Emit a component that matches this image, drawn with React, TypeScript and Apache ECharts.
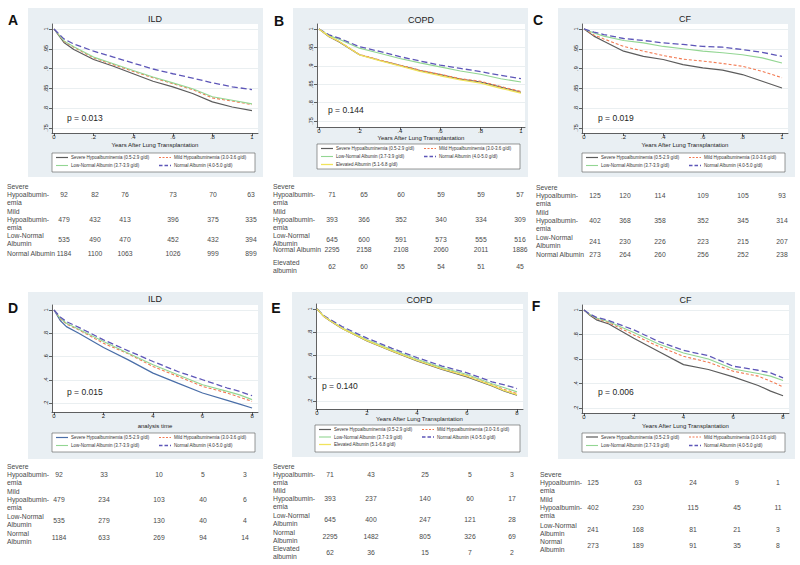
import React, { useEffect, useRef } from 'react';
import * as echarts from 'echarts';

// ---------- DATA ----------
const timesYear1 = [0, 0.05, 0.1, 0.2, 0.3, 0.4, 0.5, 0.6, 0.7, 0.8, 0.9, 1];
const timesYear8 = [0, 0.25, 0.5, 1, 2, 3, 4, 5, 6, 7, 7.5, 8];

// A: ILD 1 year
const ildY1Severe = [1, 0.966, 0.948, 0.923, 0.906, 0.887, 0.868, 0.854, 0.837, 0.816, 0.803, 0.794];
const ildY1Mild = [1, 0.969, 0.954, 0.927, 0.91, 0.893, 0.877, 0.862, 0.847, 0.826, 0.818, 0.809];
const ildY1Low = [1, 0.97, 0.955, 0.929, 0.912, 0.895, 0.879, 0.864, 0.849, 0.829, 0.82, 0.811];
const ildY1Normal = [1, 0.975, 0.962, 0.944, 0.929, 0.914, 0.899, 0.887, 0.876, 0.864, 0.854, 0.847];
// B: COPD 1 year
const copdY1Severe = [1, 0.979, 0.965, 0.93, 0.915, 0.901, 0.887, 0.876, 0.864, 0.856, 0.842, 0.828];
const copdY1Mild = [1, 0.98, 0.966, 0.931, 0.916, 0.902, 0.888, 0.877, 0.865, 0.858, 0.844, 0.83];
const copdY1Low = [1, 0.982, 0.972, 0.948, 0.934, 0.92, 0.908, 0.897, 0.886, 0.877, 0.865, 0.856];
const copdY1Normal = [1, 0.984, 0.975, 0.952, 0.939, 0.925, 0.913, 0.902, 0.893, 0.884, 0.874, 0.865];
const copdY1Elevated = [1, 0.98, 0.966, 0.93, 0.914, 0.9, 0.885, 0.873, 0.862, 0.853, 0.839, 0.826];
// C: CF 1 year
const cfY1Severe = [1, 0.982, 0.969, 0.944, 0.931, 0.923, 0.91, 0.902, 0.896, 0.885, 0.868, 0.851];
const cfY1Mild = [1, 0.985, 0.975, 0.956, 0.944, 0.933, 0.924, 0.919, 0.913, 0.906, 0.893, 0.877];
const cfY1Low = [1, 0.99, 0.982, 0.971, 0.965, 0.956, 0.95, 0.944, 0.94, 0.935, 0.927, 0.914];
const cfY1Normal = [1, 0.992, 0.986, 0.976, 0.971, 0.965, 0.961, 0.956, 0.954, 0.948, 0.941, 0.931];
// D: ILD 8 years
const ildY8Severe = [1, 0.91, 0.857, 0.8, 0.677, 0.571, 0.457, 0.371, 0.286, 0.223, 0.19, 0.157];
const ildY8Mild = [1, 0.925, 0.88, 0.829, 0.714, 0.623, 0.514, 0.429, 0.343, 0.286, 0.25, 0.214];
const ildY8Low = [1, 0.93, 0.886, 0.834, 0.729, 0.629, 0.529, 0.443, 0.357, 0.3, 0.27, 0.229];
const ildY8Normal = [1, 0.94, 0.9, 0.851, 0.743, 0.649, 0.557, 0.471, 0.4, 0.329, 0.3, 0.263];
// E: COPD 8 years
const copdY8Severe = [1, 0.94, 0.9, 0.83, 0.722, 0.632, 0.548, 0.475, 0.41, 0.33, 0.285, 0.25];
const copdY8Mild = [1, 0.94, 0.903, 0.835, 0.728, 0.638, 0.555, 0.482, 0.42, 0.34, 0.3, 0.264];
const copdY8Low = [1, 0.942, 0.905, 0.838, 0.733, 0.645, 0.562, 0.49, 0.43, 0.35, 0.315, 0.279];
const copdY8Normal = [1, 0.945, 0.912, 0.848, 0.746, 0.658, 0.577, 0.504, 0.445, 0.366, 0.34, 0.308];
const copdY8Elevated = [1, 0.94, 0.902, 0.832, 0.725, 0.635, 0.552, 0.478, 0.415, 0.335, 0.29, 0.255];
// F: CF 8 years
const cfY8Severe = [1, 0.955, 0.92, 0.886, 0.77, 0.662, 0.554, 0.514, 0.454, 0.384, 0.338, 0.3];
const cfY8Mild = [1, 0.96, 0.93, 0.897, 0.797, 0.703, 0.622, 0.573, 0.5, 0.46, 0.419, 0.373];
const cfY8Low = [1, 0.962, 0.935, 0.905, 0.816, 0.722, 0.649, 0.6, 0.519, 0.481, 0.46, 0.425];
const cfY8Normal = [1, 0.965, 0.94, 0.914, 0.838, 0.743, 0.67, 0.627, 0.541, 0.508, 0.487, 0.446];

const yTicksTop = [0.75, 0.8, 0.85, 0.9, 0.95, 1];
const yTicksBottom = [0.2, 0.4, 0.6, 0.8, 1];
const xTicksTop = [0, 0.2, 0.4, 0.6, 0.8, 1];
const xTicksBottom = [0, 2, 4, 6, 8];

const groupNames = [
  'Severe Hypoalbuminemia (0.5-2.9 g/dl)',
  'Mild Hypoalbuminemia (3.0-3.6 g/dl)',
  'Low-Normal Albumin (3.7-3.9 g/dl)',
  'Normal Albumin (4.0-5.0 g/dl)',
  'Elevated Albumin (5.1-6.8 g/dl)',
];
const pValues = ['p = 0.013', 'p = 0.144', 'p = 0.019', 'p = 0.015', 'p = 0.140', 'p = 0.006'];
const panelTitles = ['ILD', 'COPD', 'CF', 'ILD', 'COPD', 'CF'];
const panelLetters = ['A', 'B', 'C', 'D', 'E', 'F'];
const xAxisTitles = [
  'Years After Lung Transplantation', 'Years After Lung Transplantation', 'Years After Lung Transplantation',
  'analysis time', 'Years After Lung Transplantation', 'Years After Lung Transplantation',
];

const riskLabelsTop = [['Severe', 'Hypoalbumin-', 'emia'], ['Mild', 'Hypoalbumin-', 'emia'], ['Low-Normal', 'Albumin'], ['Normal Albumin'], ['Elevated', 'albumin']];
const riskLabelsBottom = [['Severe', 'Hypoalbumin-', 'emia'], ['Mild', 'Hypoalbumin-', 'emia'], ['Low-Normal', 'Albumin'], ['Normal', 'Albumin'], ['Elevated', 'albumin']];

const riskA = [[92, 82, 76, 73, 70, 63], [479, 432, 413, 396, 375, 335], [535, 490, 470, 452, 432, 394], [1184, 1100, 1063, 1026, 999, 899]];
const riskB = [[71, 65, 60, 59, 59, 57], [393, 366, 352, 340, 334, 309], [645, 600, 591, 573, 555, 516], [2295, 2158, 2108, 2060, 2011, 1886], [62, 60, 55, 54, 51, 45]];
const riskC = [[125, 120, 114, 109, 105, 93], [402, 368, 358, 352, 345, 314], [241, 230, 226, 223, 215, 207], [273, 264, 260, 256, 252, 238]];
const riskD = [[92, 33, 10, 5, 3], [479, 234, 103, 40, 6], [535, 279, 130, 40, 4], [1184, 633, 269, 94, 14]];
const riskE = [[71, 43, 25, 5, 3], [393, 237, 140, 60, 17], [645, 400, 247, 121, 28], [2295, 1482, 805, 326, 69], [62, 36, 15, 7, 2]];
const riskF = [[125, 63, 24, 9, 1], [402, 230, 115, 45, 11], [241, 168, 81, 21, 3], [273, 189, 91, 35, 8]];

// ---------- LAYOUT / STYLE ----------
const FONT = 'Liberation Sans, Arial, sans-serif';
const TABLE_FONT = 'Liberation Sans, Arial, sans-serif';
const styleOf = (gi: number, panel: number) => {
  if (gi === 0) return { color: panel === 3 ? '#4a6ea8' : '#5c5c5c', type: 'solid' as any, width: 1.2 };
  if (gi === 1) return { color: '#f27a52', type: [3, 2] as any, width: 1.1 };
  if (gi === 2) return { color: '#93d693', type: 'solid' as any, width: 1.1 };
  if (gi === 3) return { color: '#5d56b8', type: [6, 3] as any, width: 1.3 };
  return { color: '#f1e35c', type: 'solid' as any, width: 1.3 };
};

type Panel = {
  bg: number[]; grid: number[]; xr: number[]; yr: number[]; xt: number[]; yt: number[];
  times: number[]; curves: number[][]; letter: number[]; titleY: number; xTitleY: number;
  p: number[]; legBox: number[]; legRows: number[]; risk: number[][]; riskRows: number[];
  riskCols: number[]; riskLabelX: number; riskLabels: string[][];
};

const panels: Panel[] = [
  {
    bg: [28, 8, 235, 169], grid: [52, 24, 206, 109], xr: [-0.0101, 1.0303], yr: [0.7374, 1.0126],
    xt: xTicksTop, yt: yTicksTop, times: timesYear1, curves: [ildY1Severe, ildY1Mild, ildY1Low, ildY1Normal],
    letter: [13, 20], titleY: 19, xTitleY: 145, p: [67, 118], legBox: [52, 153, 203, 19], legRows: [157.5, 165.5],
    risk: riskA, riskRows: [194, 219, 239.5, 253], riskCols: [64, 95, 125, 173, 213, 251], riskLabelX: 7, riskLabels: riskLabelsTop,
  },
  {
    bg: [293, 8, 235, 169], grid: [317, 24, 208, 103], xr: [-0.0099, 1.02], yr: [0.7337, 1.0136],
    xt: xTicksTop, yt: yTicksTop, times: timesYear1, curves: [copdY1Severe, copdY1Mild, copdY1Low, copdY1Normal, copdY1Elevated],
    letter: [279, 21], titleY: 20, xTitleY: 137.5, p: [328, 110], legBox: [317, 144, 203, 25], legRows: [148.5, 156.5, 164.5],
    risk: riskB, riskRows: [194, 219, 239.5, 249, 266], riskCols: [332, 364, 401, 441, 481, 520], riskLabelX: 273, riskLabels: riskLabelsTop,
  },
  {
    bg: [558, 8, 237, 169], grid: [582, 24, 206, 109], xr: [-0.0101, 1.0303], yr: [0.7374, 1.0126],
    xt: xTicksTop, yt: yTicksTop, times: timesYear1, curves: [cfY1Severe, cfY1Mild, cfY1Low, cfY1Normal],
    letter: [538, 20], titleY: 19, xTitleY: 145, p: [598, 118], legBox: [582, 153, 203, 19], legRows: [157.5, 165.5],
    risk: riskC, riskRows: [195, 220, 241, 254], riskCols: [595, 625, 660, 703, 743, 782], riskLabelX: 536, riskLabels: riskLabelsTop,
  },
  {
    bg: [28, 292, 235, 167], grid: [52, 305, 206, 107], xr: [-0.081, 8.24], yr: [0.1226, 1.043],
    xt: xTicksBottom, yt: yTicksBottom, times: timesYear8, curves: [ildY8Severe, ildY8Mild, ildY8Low, ildY8Normal],
    letter: [13, 308], titleY: 299, xTitleY: 426, p: [67, 392], legBox: [52, 433, 203, 19], legRows: [437.5, 445.5],
    risk: riskD, riskRows: [474, 499, 520, 537], riskCols: [59, 104, 159, 203, 245], riskLabelX: 7, riskLabels: riskLabelsBottom,
  },
  {
    bg: [292, 292, 236, 165], grid: [316, 304, 207, 105], xr: [-0.04, 8.24], yr: [0.13, 1.0435],
    xt: xTicksBottom, yt: yTicksBottom, times: timesYear8, curves: [copdY8Severe, copdY8Mild, copdY8Low, copdY8Normal, copdY8Elevated],
    letter: [276, 308], titleY: 300, xTitleY: 419, p: [322, 386], legBox: [315, 425, 205, 27], legRows: [429.5, 437, 444.5],
    risk: riskE, riskRows: [474, 498, 519.5, 536.5, 552.5], riskCols: [330, 371, 425, 470, 512], riskLabelX: 273, riskLabels: riskLabelsBottom,
  },
  {
    bg: [558, 292, 237, 167], grid: [582, 305, 207, 108], xr: [-0.08, 8.24], yr: [0.159, 1.041],
    xt: xTicksBottom, yt: yTicksBottom, times: timesYear8, curves: [cfY8Severe, cfY8Mild, cfY8Low, cfY8Normal],
    letter: [536, 306], titleY: 300, xTitleY: 426, p: [598, 392], legBox: [582, 433, 203, 19], legRows: [437, 445.5],
    risk: riskF, riskRows: [482, 507, 529, 545.5], riskCols: [593, 638, 693, 737, 778], riskLabelX: 540, riskLabels: riskLabelsBottom,
  },
];

const fmtTick = (v: number) => {
  if (v === 0) return '0';
  if (v === 1) return '1';
  return String(+v.toFixed(4)).replace(/^0\./, '.');
};

function buildOption() {
  const grid: any[] = [];
  const xAxis: any[] = [];
  const yAxis: any[] = [];
  const series: any[] = [];
  const graphic: any[] = [];

  panels.forEach((p, i) => {
    graphic.push({
      type: 'rect', z: -100, silent: true,
      shape: { x: p.bg[0], y: p.bg[1], width: p.bg[2], height: p.bg[3] },
      style: { fill: '#e9eff3' },
    });
    grid.push({
      left: p.grid[0], top: p.grid[1], width: p.grid[2], height: p.grid[3],
      show: true, backgroundColor: '#ffffff', borderWidth: 0,
    });
    xAxis.push({
      type: 'value', gridIndex: i, min: p.xr[0], max: p.xr[1],
      axisLine: { show: true, onZero: false, lineStyle: { color: '#3a3a3a', width: 0.8 } },
      axisTick: { show: true, customValues: p.xt, length: 3, lineStyle: { color: '#3a3a3a', width: 0.8 } },
      axisLabel: { show: true, customValues: p.xt, formatter: fmtTick, fontSize: 6, color: '#222', margin: 1, fontFamily: FONT },
      splitLine: { show: false },
    });
    yAxis.push({
      type: 'value', gridIndex: i, min: p.yr[0], max: p.yr[1],
      axisLine: { show: true, onZero: false, lineStyle: { color: '#3a3a3a', width: 0.8 } },
      axisTick: { show: true, customValues: p.yt, length: 3, lineStyle: { color: '#3a3a3a', width: 0.8 } },
      axisLabel: { show: true, customValues: p.yt, formatter: fmtTick, fontSize: 5.5, color: '#222', margin: 3, rotate: 90, fontFamily: FONT },
      splitLine: { show: true, lineStyle: { color: '#e4ebee', width: 0.8 } },
    });
    p.curves.forEach((c, gi) => {
      const st = styleOf(gi, i);
      series.push({
        type: 'line', xAxisIndex: i, yAxisIndex: i, name: groupNames[gi],
        data: p.times.map((t, k) => [t, c[k]]),
        showSymbol: false, symbol: 'none', silent: true,
        lineStyle: { color: st.color, type: st.type, width: st.width },
        z: 2 + gi,
      });
    });

    graphic.push({ type: 'text', x: p.letter[0], y: p.letter[1], style: { text: panelLetters[i], fontSize: 14, fontWeight: 'bold', fill: '#111', fontFamily: FONT, align: 'center', verticalAlign: 'middle' } });
    const cx = p.grid[0] + p.grid[2] / 2;
    graphic.push({ type: 'text', x: cx, y: p.titleY, style: { text: panelTitles[i], fontSize: 9, fill: '#1e1e1e', fontFamily: FONT, align: 'center', verticalAlign: 'middle' } });
    graphic.push({ type: 'text', x: cx, y: p.xTitleY, style: { text: xAxisTitles[i], fontSize: 6, fill: '#222', fontFamily: FONT, align: 'center', verticalAlign: 'middle' } });
    graphic.push({ type: 'text', x: p.p[0], y: p.p[1], style: { text: pValues[i], fontSize: 8.5, fill: '#1e1e1e', fontFamily: FONT, align: 'left', verticalAlign: 'middle' } });

    const [lx, ly, lw, lh] = p.legBox;
    graphic.push({ type: 'rect', shape: { x: lx, y: ly, width: lw, height: lh }, style: { fill: '#ffffff', stroke: '#555', lineWidth: 0.6 } });
    p.curves.forEach((_, gi) => {
      const st = styleOf(gi, i);
      const col = gi % 2;
      const row = Math.floor(gi / 2);
      const ox = lx + (col === 0 ? 4 : 107);
      const y = p.legRows[row];
      graphic.push({ type: 'line', shape: { x1: ox, y1: y, x2: ox + 12, y2: y }, style: { stroke: st.color, lineWidth: st.width, lineDash: Array.isArray(st.type) ? (gi === 3 ? [3.5, 2] : [2, 1.5]) : null } });
      graphic.push({ type: 'text', x: ox + 15, y, style: { text: groupNames[gi], fontSize: 4.5, fill: '#333', fontFamily: FONT, align: 'left', verticalAlign: 'middle' } });
    });

    p.risk.forEach((row, ri) => {
      const y = p.riskRows[ri];
      const lines = p.riskLabels[ri];
      const lh2 = 8;
      lines.forEach((ln, li) => {
        const ly2 = y + (li - (lines.length - 1) / 2) * lh2;
        graphic.push({ type: 'text', x: p.riskLabelX, y: ly2, style: { text: ln, fontSize: 6.8, fill: '#4a4a4a', fontFamily: TABLE_FONT, align: 'left', verticalAlign: 'middle' } });
      });
      row.forEach((v, ci) => {
        graphic.push({ type: 'text', x: p.riskCols[ci], y, style: { text: String(v), fontSize: 6.8, fill: '#4a4a4a', fontFamily: TABLE_FONT, align: 'center', verticalAlign: 'middle' } });
      });
    });
  });

  return { animation: false, backgroundColor: '#ffffff', grid, xAxis, yAxis, series, graphic };
}

export default function App() {
  const ref = useRef<HTMLDivElement>(null);
  useEffect(() => {
    if (!ref.current) return;
    const chart = echarts.init(ref.current, undefined, { renderer: 'svg' });
    chart.setOption(buildOption() as any);
    return () => chart.dispose();
  }, []);
  return <div ref={ref} style={{ position: 'absolute', left: 0, top: 0, width: 800, height: 565 }} />;
}
